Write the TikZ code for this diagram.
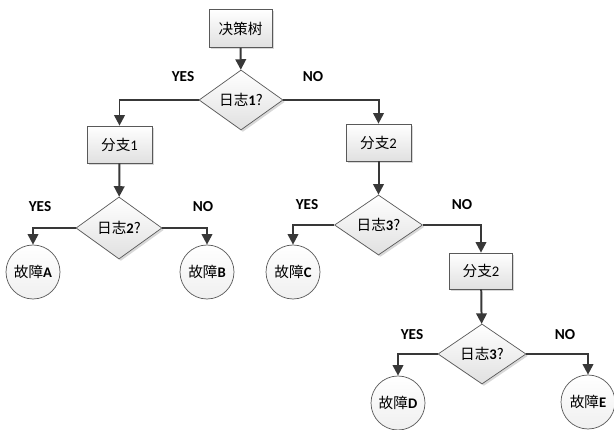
\documentclass[tikz,border=0pt]{standalone}
\usepackage{fontspec}
\setmainfont{Carlito}
\newfontfamily\cjk{Noto Sans CJK SC}
\usepackage{tikz}
\usetikzlibrary{arrows.meta,shapes.geometric,shadows}
\newcommand{\zh}[1]{{\cjk #1}}
\tikzset{
  >={Triangle[length=9pt,width=9pt]},
  jiedian/.style={
    rectangle,
    draw=black!65, line width=0.6pt,
    top color=white,
    bottom color=black!12,
    drop shadow={shadow xshift=1.6pt, shadow yshift=-1.6pt, fill=black!30, opacity=.5},
    inner sep=0pt,
    font=\fontsize{12.5}{15}\selectfont},
  panduan/.style={
    diamond,
    draw=black!65, line width=0.6pt,
    top color=white,
    bottom color=black!12,
    drop shadow={shadow xshift=1.6pt, shadow yshift=-1.6pt, fill=black!30, opacity=.5},
    inner sep=0pt,
    font=\fontsize{12.5}{15}\selectfont},
  guzhang/.style={
    circle,
    draw=black!65, line width=0.6pt,
    top color=white,
    bottom color=black!6,
    minimum size=54*0.03cm,
    inner sep=0pt,
    font=\fontsize{12.5}{15}\selectfont},
  jiantou/.style={draw=black!78, line width=1.7pt, ->},
  biaoqian/.style={font=\fontsize{13}{15}\selectfont\bfseries},
}

\begin{document}
\begin{tikzpicture}[x=0.03cm, y=-0.03cm]

		\useasboundingbox[fill=white] (0,0) rectangle (614,430);

		% boxes
		\node[jiedian, minimum width=63*0.03cm, minimum height=38*0.03cm] (gen) at (240.5,28.5) {\zh{决策树}};
		\node[jiedian, minimum width=65*0.03cm, minimum height=37*0.03cm] (fz1) at (119.5,144.5) {\zh{分支}1};
		\node[jiedian, minimum width=65*0.03cm, minimum height=37*0.03cm] (fz2) at (378.5,142.5) {\zh{分支}2};
		\node[jiedian, minimum width=63*0.03cm, minimum height=36*0.03cm] (fz3) at (481,271) {\zh{分支}2};

		% decisions
		\node[panduan, minimum width=84*0.03cm, minimum height=60*0.03cm] (rz1) at (241,100) {\zh{日志}\textbf{1}\zh{?}};
		\node[panduan, minimum width=86*0.03cm, minimum height=62*0.03cm] (rz2) at (119,228) {\zh{日志}\textbf{2}\zh{?}};
		\node[panduan, minimum width=88*0.03cm, minimum height=60*0.03cm] (rz3) at (378.5,225) {\zh{日志}\textbf{3}\zh{?}};
		\node[panduan, minimum width=88*0.03cm, minimum height=60*0.03cm] (rz4) at (482,354) {\zh{日志}\textbf{3}\zh{?}};

		% faults
		\node[guzhang] (gzA) at (33,272) {\zh{故障}\textbf{A}};
		\node[guzhang] (gzB) at (207,272) {\zh{故障}\textbf{B}};
		\node[guzhang] (gzC) at (293,272) {\zh{故障}\textbf{C}};
		\node[guzhang] (gzD) at (398,403) {\zh{故障}\textbf{D}};
		\node[guzhang] (gzE) at (588,402) {\zh{故障}\textbf{E}};

		% connectors
		\draw[jiantou] (gen) -- (rz1);
		\draw[jiantou] (rz1.west) -| (fz1.north);
		\draw[jiantou] (rz1.east) -| (fz2.north);
		\draw[jiantou] (fz1) -- (rz2);
		\draw[jiantou] (rz2.west) -| (gzA.north);
		\draw[jiantou] (rz2.east) -| (gzB.north);
		\draw[jiantou] (fz2) -- (rz3);
		\draw[jiantou] (rz3.west) -| (gzC.north);
		\draw[jiantou] (rz3.east) -| (fz3.north);
		\draw[jiantou] (fz3) -- (rz4);
		\draw[jiantou] (rz4.west) -| (gzD.north);
		\draw[jiantou] (rz4.east) -| (gzE.north);

		% labels
		\node[biaoqian] (y1) at (183,77) {YES};
		\node[biaoqian] (n1) at (313,77) {NO};
		\node[biaoqian] (y2) at (40,207) {YES};
		\node[biaoqian] (n2) at (203,207) {NO};
		\node[biaoqian] (y3) at (307,205) {YES};
		\node[biaoqian] (n3) at (462,205) {NO};
		\node[biaoqian] (y4) at (412,335) {YES};
		\node[biaoqian] (n4) at (565,335) {NO};

	\end{tikzpicture}
\end{document}
